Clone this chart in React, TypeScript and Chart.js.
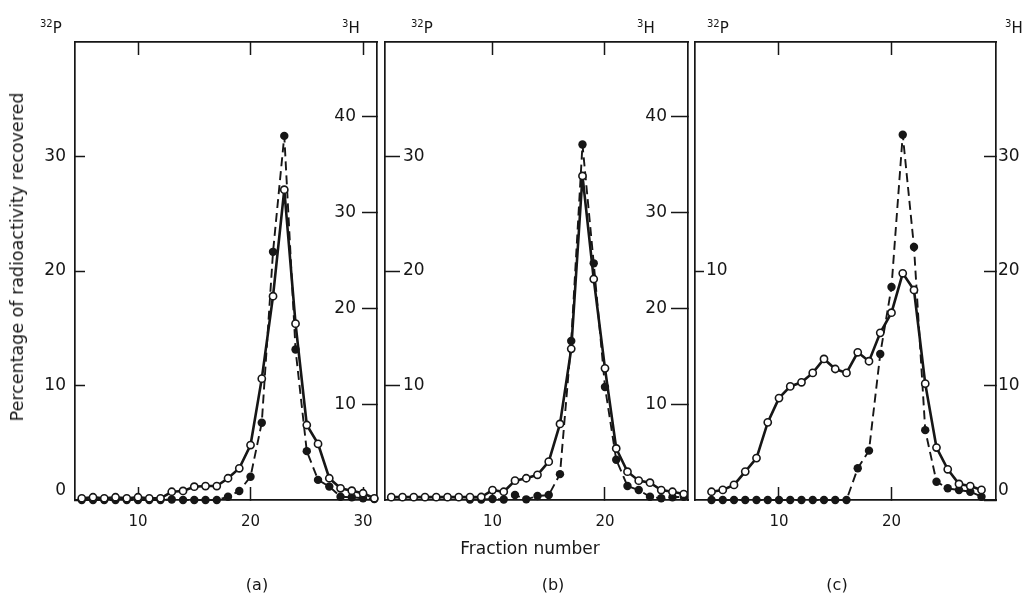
import React, { useEffect, useRef } from 'react';
import { Chart, registerables } from 'chart.js';

Chart.register(...registerables);

// ---------- data ----------
// Panel (a)
const fractionsA = [5, 6, 7, 8, 9, 10, 11, 12, 13, 14, 15, 16, 17, 18, 19, 20, 21, 22, 23, 24, 25, 26, 27, 28, 29, 30, 31];
const p32A = [0.15, 0.24, 0.15, 0.24, 0.15, 0.24, 0.15, 0.15, 0.72, 0.79, 1.16, 1.22, 1.22, 1.9, 2.77, 4.8, 10.6, 17.8, 27.1, 15.4, 6.55, 4.9, 1.9, 1.02, 0.81, 0.59, 0.15];
const h3A = [0, 0, 0, 0, 0, 0, 0, 0, 0.05, 0, 0, 0, 0, 0.34, 0.94, 2.43, 8.07, 25.9, 38.0, 15.7, 5.1, 2.1, 1.4, 0.34, 0.28, 0.18, 0.1];
// Panel (b)
const fractionsB = [1, 2, 3, 4, 5, 6, 7, 8, 9, 10, 11, 12, 13, 14, 15, 16, 17, 18, 19, 20, 21, 22, 23, 24, 25, 26, 27];
const p32B = [0.25, 0.25, 0.25, 0.25, 0.25, 0.25, 0.25, 0.25, 0.26, 0.87, 0.72, 1.69, 1.9, 2.2, 3.35, 6.64, 13.2, 28.3, 19.3, 11.5, 4.5, 2.47, 1.69, 1.51, 0.87, 0.72, 0.52];
const h3B = [null, null, null, null, null, null, null, 0.05, 0.05, 0.1, 0.05, 0.52, 0.07, 0.42, 0.52, 2.7, 16.6, 37.1, 24.7, 11.8, 4.2, 1.46, 1.04, 0.34, 0.18, 0.28, 0.34];
// Panel (c)
const fractionsC = [4, 5, 6, 7, 8, 9, 10, 11, 12, 13, 14, 15, 16, 17, 18, 19, 20, 21, 22, 23, 24, 25, 26, 27, 28];
const p32C = [0.36, 0.44, 0.66, 1.24, 1.83, 3.39, 4.45, 4.96, 5.14, 5.55, 6.16, 5.72, 5.55, 6.45, 6.06, 7.3, 8.18, 9.9, 9.17, 5.08, 2.29, 1.34, 0.7, 0.61, 0.44];
const h3C = [0, 0, 0, 0, 0, 0, 0, 0, 0, 0, 0, 0, 0, 2.77, 4.31, 12.75, 18.6, 31.9, 22.1, 6.1, 1.6, 1.02, 0.87, 0.72, 0.29];

// tick values
const xTicksA = [10, 20, 30];
const xTicksB = [10, 20];
const xTicksC = [10, 20];
const leftTicksA = [0, 10, 20, 30];
const rightTicksA = [10, 20, 30, 40];
const leftTicksB = [10, 20, 30];
const rightTicksB = [10, 20, 30, 40];
const leftTicksC = [10];
const rightTicksC = [0, 10, 20, 30];

// ---------- layout / style ----------
const W = 1029;
const H = 596;
const TOP = 42;
const BOTTOM = 500;
const WL = 40;
const WR = 40;
const HB = 40;
const HT = 10;
const INK = '#161616';
const FONT = "'DejaVu Sans', sans-serif";

type AxisCfg = { min: number; max: number; ticks: number[]; mirror: boolean; tickLen: number; pad: number };
type PanelCfg = {
  L: number; R: number; xMin: number; xMax: number; xTicks: number[];
  left: AxisCfg; right: AxisCfg;
  fr: number[]; open: (number | null)[]; filled: (number | null)[];
};

const panels: PanelCfg[] = [
  {
    L: 75, R: 377, xMin: 4.4, xMax: 31.24, xTicks: xTicksA,
    left: { min: 0, max: 40, ticks: leftTicksA, mirror: false, tickLen: -10, pad: 19 },
    right: { min: 0, max: 47.8, ticks: rightTicksA, mirror: true, tickLen: -15, pad: -21 },
    fr: fractionsA, open: p32A, filled: h3A,
  },
  {
    L: 385, R: 688, xMin: 0.444, xMax: 27.38, xTicks: xTicksB,
    left: { min: 0, max: 40, ticks: leftTicksB, mirror: true, tickLen: -15, pad: 18 },
    right: { min: 0, max: 47.8, ticks: rightTicksB, mirror: true, tickLen: -17, pad: -21 },
    fr: fractionsB, open: p32B, filled: h3B,
  },
  {
    L: 695, R: 996, xMin: 2.533, xMax: 29.29, xTicks: xTicksC,
    left: { min: 0, max: 20, ticks: leftTicksC, mirror: true, tickLen: -9, pad: 11 },
    right: { min: 0, max: 40, ticks: rightTicksC, mirror: false, tickLen: -12, pad: 14 },
    fr: fractionsC, open: p32C, filled: h3C,
  },
];

const fixTicks = (vals: number[]) => (scale: any) => {
  scale.ticks = vals.map((v) => ({ value: v }));
};

function yAxis(a: AxisCfg, position: 'left' | 'right', width: number) {
  return {
    type: 'linear',
    position,
    min: a.min,
    max: a.max,
    afterBuildTicks: fixTicks(a.ticks),
    afterFit: (s: any) => { s.width = width; },
    grid: { drawOnChartArea: false, drawTicks: true, tickLength: a.tickLen, color: INK, tickWidth: 1.5 },
    border: { display: true, color: INK, width: 1.7 },
    ticks: {
      mirror: a.mirror,
      padding: a.pad,
      color: INK,
      font: { family: FONT, size: 17, lineHeight: 1.05 },
      callback: (v: any) => (v === 0 ? ['0', ''] : String(v)),
    },
  };
}

function makeChart(canvas: HTMLCanvasElement, p: PanelCfg) {
  return new Chart(canvas, {
    type: 'line',
    data: {
      datasets: [
        {
          label: '32P',
          data: p.fr.map((f, i) => ({ x: f, y: p.open[i] })),
          xAxisID: 'x',
          yAxisID: 'yl',
          borderColor: INK,
          borderWidth: 2.6,
          pointRadius: 3.6,
          pointBackgroundColor: '#ffffff',
          pointBorderColor: INK,
          pointBorderWidth: 1.6,
          tension: 0,
          order: 0,
          clip: false,
        } as any,
        {
          label: '3H',
          data: p.fr.map((f, i) => ({ x: f, y: p.filled[i] })),
          xAxisID: 'x',
          yAxisID: 'yr',
          borderColor: INK,
          borderWidth: 1.9,
          borderDash: [9, 5],
          pointRadius: 4.2,
          pointBackgroundColor: INK,
          pointBorderColor: INK,
          pointBorderWidth: 0,
          tension: 0,
          order: 1,
          clip: false,
        } as any,
      ],
    },
    options: {
      animation: false,
      responsive: false,
      events: [],
      layout: {
        autoPadding: false,
        padding: { left: p.L - WL, right: W - p.R - WR, top: TOP - HT, bottom: H - BOTTOM - HB },
      },
      plugins: { legend: { display: false }, tooltip: { enabled: false } },
      scales: {
        x: {
          type: 'linear',
          position: 'bottom',
          min: p.xMin,
          max: p.xMax,
          afterBuildTicks: fixTicks(p.xTicks),
          afterFit: (s: any) => { s.height = HB; },
          grid: { drawOnChartArea: false, drawTicks: true, tickLength: -13, color: INK, tickWidth: 1.5 },
          border: { display: true, color: INK, width: 1.7 },
          ticks: {
            color: INK,
            padding: 26,
            autoSkip: false,
            maxRotation: 0,
            font: { family: FONT, size: 15 },
            callback: (v: any) => String(v),
          },
        },
        xt: {
          type: 'linear',
          position: 'top',
          min: p.xMin,
          max: p.xMax,
          afterBuildTicks: fixTicks(p.xTicks),
          afterFit: (s: any) => { s.height = HT; },
          grid: { drawOnChartArea: false, drawTicks: true, tickLength: -13, color: INK, tickWidth: 1.5 },
          border: { display: true, color: INK, width: 1.7 },
          ticks: { display: false },
        },
        yl: yAxis(p.left, 'left', WL),
        yr: yAxis(p.right, 'right', WR),
      } as any,
    },
  });
}

const abs = (left: number, top: number): React.CSSProperties => ({
  position: 'absolute',
  left,
  top,
  fontFamily: FONT,
  color: INK,
  whiteSpace: 'nowrap',
  lineHeight: '18px',
});

function Iso({ mass, sym, x }: { mass: string; sym: string; x: number }) {
  return (
    <div style={{ ...abs(x, 19), fontSize: 15 }}>
      <span style={{ fontSize: 10, position: 'relative', top: -6 }}>{mass}</span>
      {sym}
    </div>
  );
}

export default function App() {
  const r1 = useRef<HTMLCanvasElement>(null);
  const r2 = useRef<HTMLCanvasElement>(null);
  const r3 = useRef<HTMLCanvasElement>(null);

  useEffect(() => {
    const refs = [r1, r2, r3];
    const charts = refs.map((r, i) => makeChart(r.current as HTMLCanvasElement, panels[i]));
    return () => charts.forEach((c) => c.destroy());
  }, []);

  const cv: React.CSSProperties = { position: 'absolute', left: 0, top: 0, width: W, height: H };

  return (
    <div style={{ position: 'fixed', left: 0, top: 0, width: W, height: H, background: '#ffffff', overflow: 'hidden' }}>
      <canvas ref={r1} width={W} height={H} style={cv} />
      <canvas ref={r2} width={W} height={H} style={cv} />
      <canvas ref={r3} width={W} height={H} style={cv} />

      <Iso mass="32" sym="P" x={40} />
      <Iso mass="3" sym="H" x={342} />
      <Iso mass="32" sym="P" x={411} />
      <Iso mass="3" sym="H" x={637} />
      <Iso mass="32" sym="P" x={707} />
      <Iso mass="3" sym="H" x={1005} />

      <div
        style={{
          ...abs(17, 257),
          fontSize: 17.5,
          transform: 'translate(-50%, -50%) rotate(-90deg)',
        }}
      >
        Percentage of radioactivity recovered
      </div>

      <div style={{ ...abs(530, 548), fontSize: 17, transform: 'translate(-50%, -50%)' }}>Fraction number</div>
      <div style={{ ...abs(257, 585), fontSize: 16, transform: 'translate(-50%, -50%)' }}>(a)</div>
      <div style={{ ...abs(553, 585), fontSize: 16, transform: 'translate(-50%, -50%)' }}>(b)</div>
      <div style={{ ...abs(837, 585), fontSize: 16, transform: 'translate(-50%, -50%)' }}>(c)</div>
    </div>
  );
}
